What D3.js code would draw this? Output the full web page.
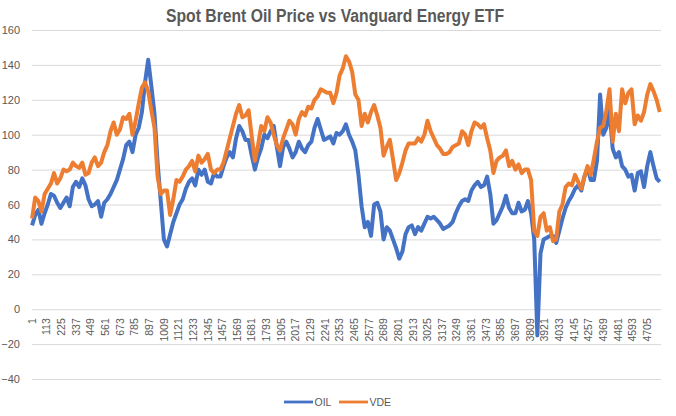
<!DOCTYPE html>
<html>
<head>
<meta charset="utf-8">
<script src="https://cdn.jsdelivr.net/npm/d3@7"></script>
<style>
  body { margin: 0; background: #fff; }
  text { font-family: "Liberation Sans", Arial, sans-serif; fill: #595959; }
</style>
</head>
<body>
<script>
// one reading every STEP trading days
var STEP = 24;
var N_DAYS = 4810;

var oil = [
  48, 54, 57, 49, 55, 60, 66, 65, 61, 58, 61,
  64, 59, 70, 73, 70, 75, 71, 63, 59, 60,
  62, 53, 61, 63, 66, 70, 74, 80, 86, 94,
  96, 90, 100, 104, 113, 130, 143, 128, 112, 84,
  62, 40, 36, 43, 50, 55, 60, 63, 69, 73,
  75, 71, 80, 77, 80, 73, 72, 78, 76, 76,
  82, 87, 90, 87, 98, 105, 102, 97, 97, 88,
  80, 87, 92, 100, 98, 102, 105, 93, 82, 93,
  96, 92, 87, 90, 96, 92, 90, 94, 96, 104,
  109, 103, 97, 98, 99, 95, 101, 100, 102, 106,
  100, 96, 91, 77, 59, 47, 50, 42, 60, 61,
  56, 40, 47, 45, 40, 35, 29, 33, 43, 47,
  48, 43, 47, 45, 49, 53, 52, 53, 51, 49,
  46, 47, 48, 50, 55, 59, 62, 63, 62, 68,
  71, 73, 70, 71, 76, 66, 49, 51, 55, 59,
  65, 58, 55, 55, 61, 56, 57, 62, 55, 40,
  -15, 32, 40, 41, 42, 42, 38, 45, 52, 58,
  62, 65, 69, 71, 68, 76, 81, 74, 74, 85,
  123, 100, 104, 114, 92, 87, 90, 82, 80, 76,
  77, 68, 78, 79, 70, 82, 90, 82, 75, 73
];

var vde = [
  52, 64, 62, 56, 66, 69, 72, 78, 72, 75, 80,
  79, 80, 84, 82, 81, 84, 77, 78, 84, 87,
  82, 84, 90, 94, 102, 107, 100, 103, 110, 109,
  112, 100, 108, 118, 127, 130, 125, 114, 104, 76,
  66, 68, 68, 54, 63, 74, 73, 76, 80, 82,
  85, 79, 88, 84, 86, 89, 80, 78, 80, 80,
  84, 91, 98, 105, 112, 117, 110, 111, 114, 99,
  85, 94, 105, 102, 110, 107, 100, 94, 91, 98,
  103, 108, 106, 100, 109, 113, 111, 116, 115, 120,
  122, 126, 125, 124, 124, 118, 124, 134, 138, 145,
  142, 136, 123, 120, 105, 112, 107, 113, 117, 111,
  104, 88, 93, 97, 86, 74, 78, 84, 91, 95,
  95, 95, 98, 96, 100, 108, 102, 98, 94, 92,
  89, 89, 90, 93, 94, 95, 102, 100, 94, 102,
  107, 106, 104, 106, 98, 91, 78, 85, 87, 88,
  91, 82, 85, 80, 83, 78, 80, 80, 74, 45,
  42, 53, 55, 45, 47, 39, 40, 56, 60, 70,
  72, 71, 77, 73, 69, 76, 82, 77, 86, 96,
  104, 105, 114, 126, 96, 112, 102, 126, 118, 124,
  126, 106, 111, 108, 113, 123, 129, 125, 120, 113
];

var seriesNames  = ["OIL", "VDE"];
var seriesColors = ["#4472C4", "#ED7D31"];
var yTicks = [-40, -20, 0, 20, 40, 60, 80, 100, 120, 140, 160];
var xTickLabels = [1, 113, 225, 337, 449, 561, 673, 785, 897, 1009, 1121, 1233,
  1345, 1457, 1569, 1681, 1793, 1905, 2017, 2129, 2241, 2353, 2465, 2577, 2689,
  2801, 2913, 3025, 3137, 3249, 3361, 3473, 3585, 3697, 3809, 3921, 4033, 4145,
  4257, 4369, 4481, 4593, 4705];
var title = "Spot Brent Oil Price vs Vanguard Energy ETF";

(function () {
/* SVG INIT ********************************************** */
var width = 676, height = 416;
var plotL = 32, plotR = 661, plotT = 30, plotB = 379;

var svg = d3.select("body").append("svg")
    .attr("width", width)
    .attr("height", height);

var x = d3.scaleLinear().domain([0.5, N_DAYS + 0.5]).range([plotL, plotR]);
var y = d3.scaleLinear().domain([-40, 160]).range([plotB, plotT]);

/* TITLE ************************************************* */
svg.append("text")
    .attr("x", 335)
    .attr("y", 22)
    .attr("text-anchor", "middle")
    .attr("textLength", 338)
    .attr("lengthAdjust", "spacingAndGlyphs")
    .style("font-size", "18px")
    .style("font-weight", "bold")
    .text(title);

/* GRID + Y AXIS ***************************************** */
var yAxis = svg.append("g")
    .attr("transform", "translate(" + plotL + ",0)")
    .call(d3.axisLeft(y).tickValues(yTicks).tickSize(-(plotR - plotL)).tickPadding(12));
yAxis.select(".domain").remove();
yAxis.selectAll("line").attr("stroke", "#D9D9D9").attr("stroke-width", 1);
yAxis.selectAll("text")
    .style("font-size", "11px")
    .style("font-family", "Liberation Sans, Arial, sans-serif")
    .attr("fill", "#595959");

/* X LABELS (category axis crosses at 0) ***************** */
svg.append("g").selectAll("text")
    .data(xTickLabels)
  .enter().append("text")
    .attr("transform", function (d) { return "translate(" + x(d) + "," + (y(0) + 9) + ") rotate(-90)"; })
    .attr("text-anchor", "end")
    .attr("dy", "0.35em")
    .style("font-size", "10.5px")
    .text(function (d) { return d; });

/* SERIES ************************************************ */
var line = d3.line()
    .x(function (d, i) { return x(1 + i * STEP); })
    .y(function (d) { return y(d); });

[oil, vde].forEach(function (vals, s) {
  svg.append("path")
      .datum(vals)
      .attr("d", line)
      .attr("fill", "none")
      .attr("stroke", seriesColors[s])
      .attr("stroke-width", 4)
      .attr("stroke-linejoin", "round");
});

/* LEGEND ************************************************ */
var legend = svg.append("g").attr("transform", "translate(284,402)");
seriesNames.forEach(function (name, s) {
  var g = legend.append("g").attr("transform", "translate(" + (s * 55) + ",0)");
  g.append("line")
      .attr("x1", 0).attr("x2", 29)
      .attr("y1", 0).attr("y2", 0)
      .attr("stroke", seriesColors[s])
      .attr("stroke-width", 2.8);
  g.append("text")
      .attr("x", 30.5)
      .attr("y", 4)
      .style("font-size", "10.5px")
      .text(name);
});
})();
</script>
</body>
</html>
